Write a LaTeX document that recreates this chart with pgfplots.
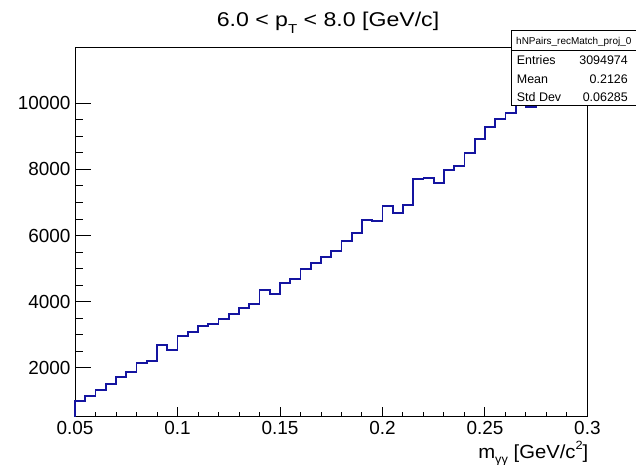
\documentclass[border=0pt]{standalone}
\usepackage{fontspec}
\setmainfont{Liberation Sans}
\usepackage{pgfplots}
\pgfplotsset{compat=1.18}
\definecolor{histblue}{RGB}{20,20,160}
\begin{document}
\begin{tikzpicture}
\useasboundingbox (0,0) rectangle (636bp,465bp);
% x-axis ticks and histogram
\begin{axis}[
  at={(75bp,48.3bp)}, anchor=south west,
  scale only axis, width=512.4bp, height=368.9bp,
  xmin=0.05, xmax=0.3, ymin=517, ymax=11680,
  axis line style={line width=1bp},
  xtick={0.05,0.1,0.15,0.2,0.25,0.3},
  xticklabels={0.05,0.1,0.15,0.2,0.25,0.3},
  minor x tick num=4,
  ytick=\empty,
  xtick pos=lower, tick align=inside,
  major tick length=10bp, minor tick length=5bp,
  every tick/.style={black, line width=0.9bp},
  xticklabel style={font=\fontsize{19}{19}\selectfont, anchor=base, inner sep=0pt, yshift=-18.3bp},
  clip=false,
]
\addplot[histblue, line width=1.8bp, const plot mark left] coordinates {
(0.050,517)
(0.050,1000) (0.055,1144) (0.060,1325) (0.065,1497) (0.070,1728)
(0.075,1860) (0.080,2142) (0.085,2203) (0.090,2696) (0.095,2536)
(0.100,2950) (0.105,3070) (0.110,3271) (0.115,3332) (0.120,3483)
(0.125,3625) (0.130,3816) (0.135,3917) (0.140,4360) (0.145,4230)
(0.150,4554) (0.155,4684) (0.160,4996) (0.165,5168) (0.170,5359)
(0.175,5527) (0.180,5834) (0.185,6067) (0.190,6460) (0.195,6439)
(0.200,6884) (0.205,6672) (0.210,6932) (0.215,7710) (0.220,7749)
(0.225,7580) (0.230,7983) (0.235,8104) (0.240,8506) (0.245,8911)
(0.250,9274) (0.255,9530) (0.260,9715) (0.265,10100) (0.270,9890)
(0.275,10350) (0.280,10600) (0.285,10800) (0.290,10950) (0.295,11150)
(0.300,11150)
};
\end{axis}
% y-axis ticks
\begin{axis}[
  at={(75bp,48.3bp)}, anchor=south west,
  scale only axis, width=512.4bp, height=368.9bp,
  xmin=0.05, xmax=0.3, ymin=517, ymax=11680,
  axis line style={draw=none},
  xtick=\empty,
  ytick={2000,4000,6000,8000,10000},
  scaled y ticks=false,
  minor y tick num=3,
  ytick pos=left, tick align=inside,
  major tick length=15.7bp, minor tick length=7.8bp,
  every tick/.style={black, line width=0.9bp},
  /pgf/number format/assume math mode=true,
  /pgf/number format/1000 sep={},
  yticklabel style={font=\fontsize{19}{19}\selectfont, anchor=east, inner sep=0pt, xshift=-4.3bp},
]
\end{axis}
% title
\node[anchor=base, inner sep=0pt, font=\fontsize{20}{20}\selectfont] at (328bp,438.3bp)
  {\scalebox{1.16}[1]{6.0 < p\raisebox{-0.35em}{\fontsize{13}{13}\selectfont T} < 8.0 [GeV/c]}};
% x label
\node[anchor=base east, inner sep=0pt, font=\fontsize{19}{19}\selectfont] at (588.5bp,7bp)
  {\scalebox{1.07}[1]{m\raisebox{-0.3em}{\fontsize{12}{12}\selectfont γγ} [GeV/c\raisebox{0.45em}{\fontsize{12}{12}\selectfont 2}]}};
% stats box
\draw[line width=1bp, fill=white] (511.7bp,359bp) rectangle (636bp,434.3bp);
\draw[line width=1bp] (511.7bp,414.3bp) -- (636bp,414.3bp);
\node[anchor=base, inner sep=0pt, font=\fontsize{10}{10}\selectfont] at (573.8bp,420.3bp) {hNPairs\_recMatch\_proj\_0};
\begin{scope}[every node/.style={inner sep=0pt, font=\fontsize{12.5}{12.5}\selectfont}]
\node[anchor=base west] at (516.7bp,400bp) {Entries};
\node[anchor=base east] at (628bp,400bp) {3094974};
\node[anchor=base west] at (516.7bp,381.7bp) {Mean};
\node[anchor=base east] at (628bp,381.7bp) {0.2126};
\node[anchor=base west] at (516.7bp,363.3bp) {Std Dev};
\node[anchor=base east] at (628bp,363.3bp) {0.06285};
\end{scope}
\end{tikzpicture}
\end{document}
